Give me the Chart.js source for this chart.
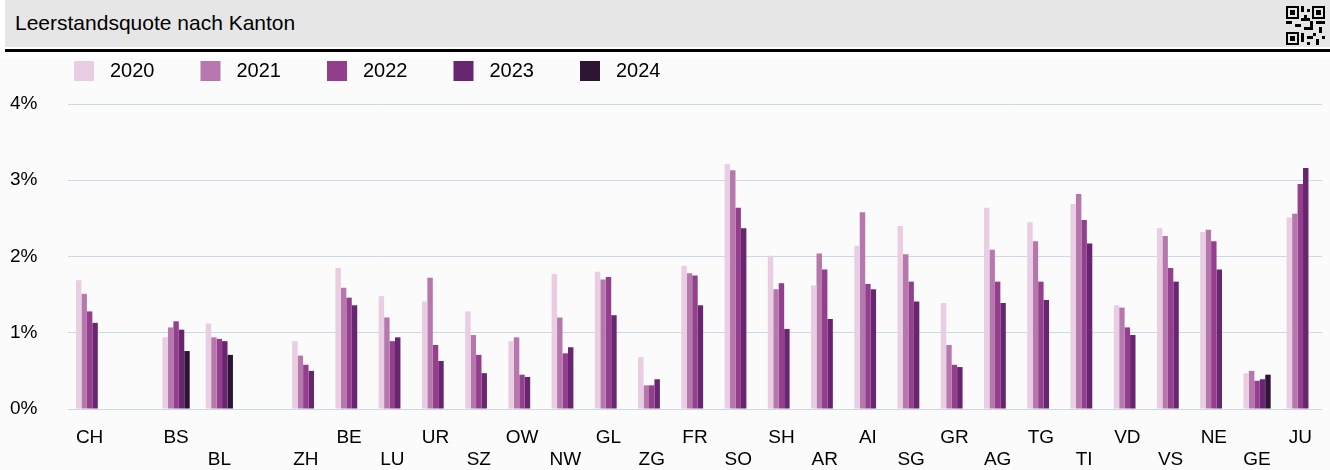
<!DOCTYPE html>
<html>
<head>
<meta charset="utf-8">
<script src="https://cdn.jsdelivr.net/npm/chart.js@4.4.1/dist/chart.umd.min.js"></script>
<style>
  body { margin: 0; background: #fff; font-family: 'Liberation Sans', Arial, sans-serif; }
  #head { position: absolute; left: 5px; top: 0; right: 0; height: 47px; background: #e6e6e6; }
  #head .title { position: absolute; left: 10px; top: 0; line-height: 46px; font-size: 21px; color: #000; }
  #head svg { position: absolute; right: 5px; top: 6px; }
  #rule { position: absolute; left: 5px; right: 0; top: 49px; height: 3px; background: #000; }
  #wrap { position: absolute; left: 0; top: 58px; width: 1330px; height: 412px; background: #fbfbfb; }
</style>
</head>
<body>
<div id="head">
  <div class="title">Leerstandsquote nach Kanton</div>
  <svg width="39" height="39" viewBox="0 0 39 39">
    <rect x="1" y="1" width="11" height="11" fill="none" stroke="#000" stroke-width="2"/>
    <rect x="4" y="4" width="5" height="5"/>
    <rect x="27" y="1" width="11" height="11" fill="none" stroke="#000" stroke-width="2"/>
    <rect x="30" y="4" width="5" height="5"/>
    <rect x="1" y="27" width="11" height="11" fill="none" stroke="#000" stroke-width="2"/>
    <rect x="4" y="30" width="5" height="5"/>
    <rect x="15" y="0" width="3" height="6"/><rect x="21" y="3" width="3" height="3"/>
    <rect x="18" y="9" width="3" height="3"/><rect x="15" y="12" width="9" height="3"/>
    <rect x="0" y="15" width="6" height="3"/><rect x="9" y="18" width="6" height="3"/>
    <rect x="24" y="15" width="3" height="6"/><rect x="30" y="15" width="9" height="3"/>
    <rect x="33" y="21" width="3" height="6"/><rect x="18" y="21" width="9" height="3"/>
    <rect x="15" y="27" width="3" height="9"/><rect x="21" y="30" width="6" height="3"/>
    <rect x="27" y="27" width="3" height="3"/><rect x="30" y="33" width="3" height="6"/>
    <rect x="36" y="30" width="3" height="3"/><rect x="21" y="36" width="3" height="3"/>
  </svg>
</div>
<div id="rule"></div>
<div id="wrap"><canvas id="chart"></canvas></div>
<script>
const cantons = ['CH', '', 'BS', 'BL', '', 'ZH', 'BE', 'LU', 'UR', 'SZ', 'OW', 'NW', 'GL', 'ZG', 'FR',
  'SO', 'SH', 'AR', 'AI', 'SG', 'GR', 'AG', 'TG', 'TI', 'VD', 'VS', 'NE', 'GE', 'JU'];
const years = ['2020', '2021', '2022', '2023', '2024'];
const colors = ['#e9cde3', '#b577ac', '#933f8d', '#682570', '#2e1534'];

// Leerstandsquote in %
const v2020 = [1.69, null, 0.94, 1.12, null, 0.89, 1.85, 1.48, 1.41, 1.28, 0.89, 1.77, 1.80, 0.68, 1.88,
  3.21, 2.01, 1.62, 2.14, 2.40, 1.39, 2.64, 2.45, 2.69, 1.36, 2.37, 2.32, 0.47, 2.51];
const v2021 = [1.51, null, 1.07, 0.94, null, 0.70, 1.59, 1.20, 1.72, 0.97, 0.94, 1.20, 1.70, 0.31, 1.78,
  3.13, 1.57, 2.04, 2.58, 2.03, 0.84, 2.09, 2.20, 2.82, 1.33, 2.27, 2.35, 0.50, 2.56];
const v2022 = [1.28, null, 1.15, 0.92, null, 0.58, 1.46, 0.89, 0.84, 0.71, 0.45, 0.73, 1.73, 0.31, 1.75,
  2.64, 1.65, 1.83, 1.64, 1.67, 0.58, 1.67, 1.67, 2.48, 1.07, 1.85, 2.20, 0.37, 2.95];
const v2023 = [1.13, null, 1.04, 0.89, null, 0.50, 1.36, 0.94, 0.63, 0.47, 0.42, 0.81, 1.23, 0.39, 1.36,
  2.37, 1.05, 1.18, 1.57, 1.41, 0.55, 1.39, 1.43, 2.17, 0.97, 1.67, 1.83, 0.39, 3.16];
const v2024 = [null, null, 0.76, 0.71, null, null, null, null, null, null, null, null, null, null, null,
  null, null, null, null, null, null, null, null, null, null, null, null, 0.45, null];
const yTicks = [0, 1, 2, 3, 4];

const series = [v2020, v2021, v2022, v2023, v2024];

// legend swatch: transparent space on the left, square on the right
function swatch(color) {
  const c = document.createElement('canvas');
  c.width = 69; c.height = 20;
  const g = c.getContext('2d');
  g.fillStyle = color;
  g.fillRect(43, 0, 20, 20);
  return c;
}

const legendGap = {
  id: 'legendGap',
  beforeInit(chart) {
    const fit = chart.legend.fit;
    chart.legend.fit = function () {
      fit.call(this);
      this.height += 13;
    };
  }
};

Chart.defaults.font.family = "'Liberation Sans', Arial, sans-serif";
Chart.defaults.color = '#000';

new Chart(document.getElementById('chart'), {
  type: 'bar',
  data: {
    labels: cantons,
    datasets: years.map((y, i) => ({
      label: y,
      data: series[i],
      backgroundColor: colors[i],
      borderWidth: 0,
      categoryPercentage: 0.63,
      barPercentage: 1.0
    }))
  },
  options: {
    responsive: true,
    maintainAspectRatio: false,
    animation: false,
    layout: { padding: { left: 28, right: 5, top: 0, bottom: 0 } },
    plugins: {
      tooltip: { enabled: false },
      legend: {
        display: true,
        position: 'top',
        align: 'start',
        labels: {
          usePointStyle: true,
          pointStyleWidth: 69,
          boxHeight: 20,
          padding: 3,
          font: { size: 20 },
          generateLabels(chart) {
            const items = Chart.defaults.plugins.legend.labels.generateLabels(chart);
            items.forEach((it, i) => { it.pointStyle = swatch(colors[i]); });
            return items;
          }
        }
      }
    },
    scales: {
      x: {
        grid: { display: false, drawTicks: false },
        border: { display: false },
        ticks: {
          autoSkip: false,
          maxRotation: 0,
          padding: 18,
          font: { size: 19, lineHeight: '22px' },
          callback: function (value, index) {
            const name = this.getLabelForValue(value);
            return index % 2 === 0 ? [name, ''] : ['', name];
          }
        },
        afterFit(scale) { scale.height = 61; }
      },
      y: {
        min: yTicks[0],
        max: yTicks[yTicks.length - 1],
        grid: { color: '#c8dbe5', lineWidth: 1, drawTicks: false },
        border: { display: false },
        ticks: {
          stepSize: 1,
          mirror: true,
          padding: -58,
          font: { size: 19 },
          callback: v => v + '%'
        },
        afterFit(scale) { scale.width = 40; }
      }
    }
  },
  plugins: [legendGap]
});
</script>
</body>
</html>
